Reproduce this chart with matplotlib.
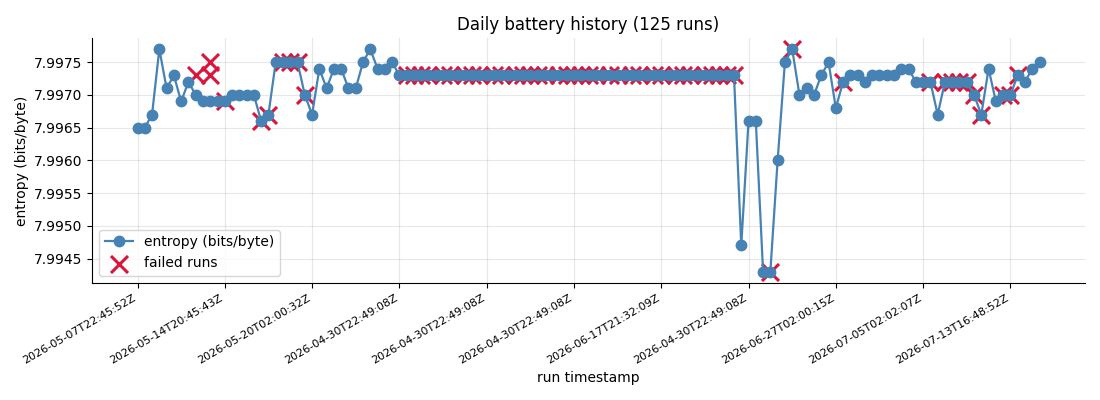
import matplotlib
matplotlib.use("Agg")
import matplotlib.pyplot as plt
from matplotlib.ticker import ScalarFormatter

# ---------------------------------------------------------------------------
# data
# ---------------------------------------------------------------------------

entropy = [
    7.9965, 7.9965, 7.9967, 7.9977, 7.9971, 7.9973, 7.9969, 7.9972, 7.9970, 7.9969,
    7.9969, 7.9969, 7.9969, 7.9970, 7.9970, 7.9970, 7.9970, 7.9966, 7.9967, 7.9975,
    7.9975, 7.9975, 7.9975, 7.9970, 7.9967, 7.9974, 7.9971, 7.9974, 7.9974, 7.9971,
    7.9971, 7.9975, 7.9977, 7.9974, 7.9974, 7.9975,
    7.9973, 7.9973, 7.9973, 7.9973, 7.9973, 7.9973, 7.9973, 7.9973, 7.9973, 7.9973,
    7.9973, 7.9973, 7.9973, 7.9973, 7.9973, 7.9973, 7.9973, 7.9973, 7.9973, 7.9973,
    7.9973, 7.9973, 7.9973, 7.9973, 7.9973, 7.9973, 7.9973, 7.9973, 7.9973, 7.9973,
    7.9973, 7.9973, 7.9973, 7.9973, 7.9973, 7.9973, 7.9973, 7.9973, 7.9973, 7.9973,
    7.9973, 7.9973, 7.9973, 7.9973, 7.9973, 7.9973, 7.9973,
    7.9947, 7.9966, 7.9966, 7.9943, 7.9943, 7.9960, 7.9975, 7.9977, 7.9970, 7.9971,
    7.9970, 7.9973, 7.9975, 7.9968, 7.9972, 7.9973, 7.9973, 7.9972, 7.9973, 7.9973,
    7.9973, 7.9973, 7.9974, 7.9974, 7.9972, 7.9972, 7.9972, 7.9967, 7.9972, 7.9972,
    7.9972, 7.9972, 7.9970, 7.9967, 7.9974, 7.9969, 7.9970, 7.9970, 7.9973, 7.9972,
    7.9974, 7.9975,
]

failed_idx = [8, 10, 10, 12, 17, 18, 20, 21, 22, 23,
              37, 38, 39, 40, 42, 43, 45, 46, 47, 49, 50, 52, 53, 54, 55, 56,
              58, 59, 60, 61, 62, 63, 65, 66, 68, 69, 71, 72, 74, 75, 76, 78,
              79, 80, 81, 82,
              87, 90, 97, 109, 111, 112, 113, 114, 115, 116, 119, 120, 121]
failed_val = [7.9973, 7.9975, 7.9973, 7.9969, 7.9966, 7.9967, 7.9975, 7.9975, 7.9975, 7.9970,
              7.9973, 7.9973, 7.9973, 7.9973, 7.9973, 7.9973, 7.9973, 7.9973, 7.9973, 7.9973,
              7.9973, 7.9973, 7.9973, 7.9973, 7.9973, 7.9973, 7.9973, 7.9973, 7.9973, 7.9973,
              7.9973, 7.9973, 7.9973, 7.9973, 7.9973, 7.9973, 7.9973, 7.9973, 7.9973, 7.9973,
              7.9973, 7.9973, 7.9973, 7.9973, 7.9973, 7.9973,
              7.9943, 7.9977, 7.9972, 7.9972, 7.9972, 7.9972, 7.9972, 7.9972, 7.9970, 7.9967,
              7.9970, 7.9970, 7.9973]

tick_pos = [0, 12, 24, 36, 48, 60, 72, 84, 96, 108, 120]
tick_labels = [
    "2026-05-07T22:45:52Z", "2026-05-14T20:45:43Z", "2026-05-20T02:00:32Z",
    "2026-04-30T22:49:08Z", "2026-04-30T22:49:08Z", "2026-04-30T22:49:08Z",
    "2026-06-17T21:32:09Z", "2026-04-30T22:49:08Z", "2026-06-27T02:00:15Z",
    "2026-07-05T02:02:07Z", "2026-07-13T16:48:52Z",
]

# ---------------------------------------------------------------------------

runs = list(range(len(entropy)))

fig, ax = plt.subplots(figsize=(11, 4), dpi=100)
ax.plot(runs, entropy, color="steelblue", marker="o", markersize=7.5,
        linewidth=1.6, label="entropy (bits/byte)", zorder=3)
# failed markers sit behind the line markers, as in the reference
ax.scatter(failed_idx, failed_val, marker="x", color="crimson", s=150,
           linewidths=2.2, label="failed runs", zorder=2)

ax.set_title(f"Daily battery history ({len(entropy)} runs)", fontsize=12)
ax.set_xlabel("run timestamp")
ax.set_ylabel("entropy (bits/byte)")
ax.set_xticks(tick_pos)
ax.set_xticklabels(tick_labels, rotation=30, ha="right", fontsize=8)
fmt = ScalarFormatter(useOffset=False)
ax.yaxis.set_major_formatter(fmt)
ax.grid(True, alpha=0.3)
ax.spines["top"].set_visible(False)
ax.spines["right"].set_visible(False)
ax.legend(loc="lower left")

fig.subplots_adjust(left=0.084, right=0.986, top=0.905, bottom=0.293)
fig.savefig("out.png", dpi=100)
